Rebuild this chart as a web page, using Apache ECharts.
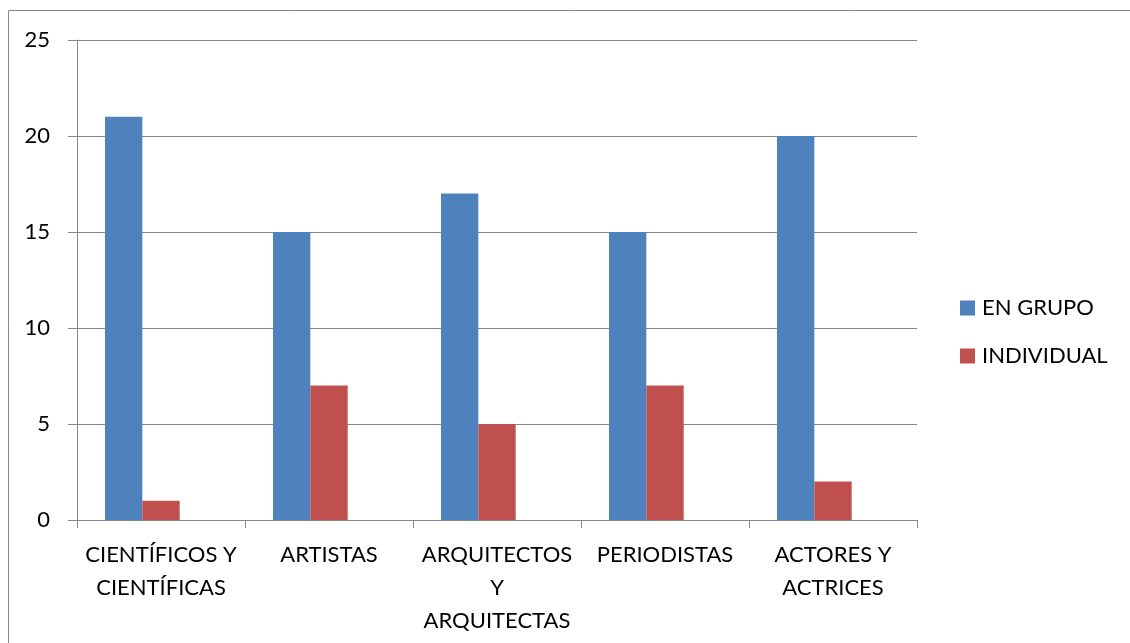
<!DOCTYPE html>
<html>
<head>
<meta charset="utf-8">
<script src="https://cdn.jsdelivr.net/npm/echarts@6/dist/echarts.min.js"></script>
<style>
  html, body { margin: 0; padding: 0; background: #fff; }
  #chart { width: 1130px; height: 643px; }
</style>
</head>
<body>
<div id="chart"></div>
<script>
// Professions (x-axis categories)
const categories = [
  'CIENTÍFICOS Y\nCIENTÍFICAS',
  'ARTISTAS',
  'ARQUITECTOS\nY\nARQUITECTAS',
  'PERIODISTAS',
  'ACTORES Y\nACTRICES'
];
// Series values
const enGrupo = [21, 15, 17, 15, 20];
const individual = [1, 7, 5, 7, 2];
// Empty third slot keeps the clustered layout of three bars per category
const vacio = [null, null, null, null, null];

const seriesNames = ['EN GRUPO', 'INDIVIDUAL'];
const yTicks = { min: 0, max: 25, interval: 5 };

const FONT = 'Lato, "Open Sans", sans-serif';
const AXIS_GREY = '#868686';

const chart = echarts.init(document.getElementById('chart'), null, { renderer: 'canvas' });
chart.setOption({
  animation: false,
  backgroundColor: '#fff',
  textStyle: { fontFamily: FONT },
  graphic: [{
    type: 'rect',
    shape: { x: 8.5, y: 10.5, width: 1140, height: 650 },
    style: { fill: 'none', stroke: '#898989', lineWidth: 1 },
    silent: true,
    z: -10
  }],
  grid: { left: 77, top: 40, right: 213, bottom: 123, containLabel: false },
  legend: {
    data: seriesNames,
    orient: 'vertical',
    left: 960,
    top: 297,
    padding: 0,
    itemWidth: 15,
    itemHeight: 15,
    itemGap: 26,
    icon: 'rect',
    textStyle: { fontFamily: FONT, fontSize: 22, lineHeight: 15, color: '#000', padding: [0, 0, 0, 2] }
  },
  xAxis: {
    type: 'category',
    data: categories,
    axisLine: { lineStyle: { color: AXIS_GREY, width: 1 } },
    axisTick: { show: true, length: 8, alignWithLabel: false, lineStyle: { color: AXIS_GREY } },
    axisLabel: {
      interval: 0,
      color: '#000',
      fontFamily: FONT,
      fontSize: 22,
      lineHeight: 33,
      margin: 18
    },
    splitLine: { show: false }
  },
  yAxis: {
    type: 'value',
    min: yTicks.min,
    max: yTicks.max,
    interval: yTicks.interval,
    axisLine: { show: true, lineStyle: { color: AXIS_GREY, width: 1 } },
    axisTick: { show: true, length: 9, lineStyle: { color: AXIS_GREY } },
    axisLabel: { color: '#000', fontFamily: FONT, fontSize: 22, margin: 27 },
    splitLine: { show: true, lineStyle: { color: AXIS_GREY, width: 1 } }
  },
  series: [
    {
      name: seriesNames[0],
      type: 'bar',
      data: enGrupo,
      barGap: '0%',
      barCategoryGap: '33.3%',
      itemStyle: { color: '#4F81BD' }
    },
    {
      name: seriesNames[1],
      type: 'bar',
      data: individual,
      itemStyle: { color: '#C0504D' }
    },
    {
      name: '',
      type: 'bar',
      data: vacio,
      itemStyle: { color: 'transparent' }
    }
  ]
});
</script>
</body>
</html>
